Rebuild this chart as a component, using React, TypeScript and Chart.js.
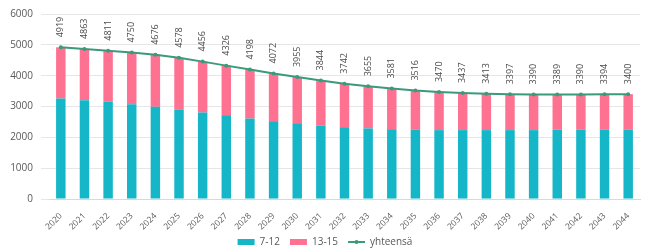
import React, { useEffect, useRef } from "react";
import { Chart, registerables } from "chart.js";

Chart.register(...registerables);

const years = ["2020","2021","2022","2023","2024","2025","2026","2027","2028","2029","2030","2031","2032","2033","2034","2035","2036","2037","2038","2039","2040","2041","2042","2043","2044"];
const totals = [4919,4863,4811,4750,4676,4578,4456,4326,4198,4072,3955,3844,3742,3655,3581,3516,3470,3437,3413,3397,3390,3389,3390,3394,3400];
const age7to12 = [3260,3205,3150,3075,2990,2890,2805,2720,2610,2525,2460,2385,2330,2290,2265,2245,2235,2235,2235,2235,2235,2255,2255,2255,2255];
const age13to15 = [1659,1658,1661,1675,1686,1688,1651,1606,1588,1547,1495,1459,1412,1365,1316,1271,1235,1202,1178,1162,1155,1134,1135,1139,1145];

const TEAL = "#14B6C8";
const PINK = "#FE7190";
const GREEN = "#3A9A7C";
const TEXT = "#595959";
const FONT = "'Open Sans', 'Noto Sans', sans-serif";

const labelPlugin = {
  id: "vlabels",
  afterDatasetsDraw(chart: any) {
    const meta = chart.getDatasetMeta(2);
    const ctx = chart.ctx;
    ctx.save();
    ctx.fillStyle = "#4a4a4a";
    ctx.font = `9px ${FONT}`;
    ctx.textAlign = "left";
    ctx.textBaseline = "middle";
    meta.data.forEach((pt: any, i: number) => {
      ctx.save();
      ctx.translate(pt.x, pt.y - 10);
      ctx.rotate(-Math.PI / 2);
      ctx.fillText(String(totals[i]), 0, 0);
      ctx.restore();
    });
    ctx.restore();
  },
};

const legendFitPlugin = {
  id: "legendFit",
  beforeLayout(chart: any) {
    const lg = chart.legend;
    if (!lg || lg._fitWrapped) return;
    const orig = lg.fit;
    lg.fit = function () {
      orig.call(this);
      this.height -= 14;
    };
    lg._fitWrapped = true;
  },
  afterLayout(chart: any) {
    const lg = chart.legend;
    if (!lg) return;
    lg.top -= 9;
    lg.bottom = chart.height;
    lg.height = lg.bottom - lg.top;
    lg.left += 5;
    lg.right += 5;
  },
};

const legendDotPlugin = {
  id: "legendDot",
  afterDraw(chart: any) {
    const lg = chart.legend;
    if (!lg || !lg.legendItems || !lg.legendHitBoxes) return;
    const idx = lg.legendItems.findIndex((it: any) => it.datasetIndex === 2);
    const hb = lg.legendHitBoxes[idx];
    if (!hb) return;
    const ctx = chart.ctx;
    const bw = lg.options.labels.boxWidth;
    ctx.save();
    ctx.fillStyle = GREEN;
    ctx.beginPath();
    ctx.arc(hb.left + bw / 2, hb.top + hb.height / 2, 2, 0, Math.PI * 2);
    ctx.fill();
    ctx.restore();
  },
};

export default function App() {
  const ref = useRef<HTMLCanvasElement>(null);
  useEffect(() => {
    document.body.style.margin = "0";
    const chart = new Chart(ref.current!, {
      type: "bar",
      data: {
        labels: years,
        datasets: [
          {
            type: "bar",
            label: "7-12",
            data: age7to12,
            backgroundColor: TEAL,
            stack: "s",
            categoryPercentage: 1,
            barPercentage: 0.4,
            order: 2,
          },
          {
            type: "bar",
            label: "13-15",
            data: age13to15,
            backgroundColor: PINK,
            stack: "s",
            categoryPercentage: 1,
            barPercentage: 0.4,
            order: 2,
          },
          {
            type: "line",
            label: "yhteensä",
            data: totals,
            borderColor: GREEN,
            backgroundColor: GREEN,
            borderWidth: 2,
            pointRadius: 2,
            pointBackgroundColor: GREEN,
            pointBorderWidth: 0,
            tension: 0,
            order: 1,
          } as any,
        ],
      },
      options: {
        animation: false,
        responsive: false,
        maintainAspectRatio: false,
        layout: { padding: { left: 0, right: 6, top: 8, bottom: 0 } },
        plugins: {
          tooltip: { enabled: false },
          legend: {
            position: "bottom",
            labels: {
              usePointStyle: true,
              pointStyleWidth: 17,
              boxWidth: 17,
              boxHeight: 6,
              padding: 10,
              color: TEXT,
              font: { size: 10, family: FONT },
              sort: (a: any, b: any) => a.datasetIndex - b.datasetIndex,
              generateLabels(chart: any) {
                const items = Chart.defaults.plugins.legend.labels.generateLabels(chart);
                items.forEach((it: any) => {
                  const isLine = it.datasetIndex === 2;
                  it.pointStyle = isLine ? "line" : "rect";
                  it.lineWidth = isLine ? 2 : 0;
                  it.strokeStyle = isLine ? GREEN : it.fillStyle;
                });
                return items;
              },
            },
          },
        },
        scales: {
          x: {
            stacked: true,
            grid: { display: false },
            border: { color: "#d9d9d9" },
            ticks: {
              color: TEXT,
              font: { size: 8.5, family: FONT },
              minRotation: 45,
              maxRotation: 45,
              padding: 4,
            },
          },
          y: {
            stacked: true,
            min: 0,
            max: 6000,
            grid: { color: "#e6e6e6" },
            border: { display: false },
            afterFit: (scale: any) => {
              scale.width = 49;
            },
            ticks: {
              stepSize: 1000,
              color: TEXT,
              font: { size: 10, family: FONT },
              padding: 8,
              callback: (v: any) => String(v),
            },
          },
        },
      },
      plugins: [labelPlugin, legendFitPlugin, legendDotPlugin],
    });
    return () => chart.destroy();
  }, []);
  return <canvas ref={ref} width={646} height={252} style={{ display: "block" }} />;
}
